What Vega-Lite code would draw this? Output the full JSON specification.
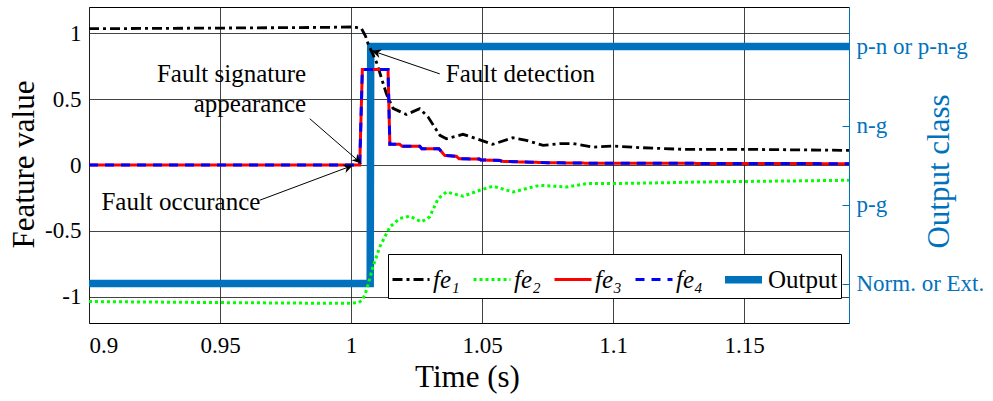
{
  "$schema": "https://vega.github.io/schema/vega-lite/v6.json",
  "width": 760,
  "height": 316,
  "autosize": "none",
  "padding": {"left": 89, "top": 7, "right": 144, "bottom": 78},
  "background": "white",
  "config": {
    "view": {"stroke": "black", "strokeWidth": 1},
    "font": "Liberation Serif",
    "axis": {
      "labelFont": "Liberation Serif",
      "titleFont": "Liberation Serif",
      "titleFontWeight": "normal",
      "labelColor": "black",
      "titleColor": "black",
      "gridColor": "#222222",
      "gridOpacity": 0.85,
      "gridWidth": 1,
      "domainColor": "black",
      "labelFontSize": 23,
      "titleFontSize": 31
    },
    "legend": {
      "orient": "none",
      "legendX": 299,
      "legendY": 247,
      "direction": "horizontal",
      "strokeColor": "black",
      "fillColor": "white",
      "padding": 3,
      "symbolType": "stroke",
      "symbolSize": 1369,
      "labelFont": "Liberation Serif",
      "labelFontSize": 25,
      "labelColor": "black",
      "labelFontStyle": {"expr": "datum.label == 'Output' ? 'normal' : 'italic'"},
      "columnPadding": 7,
      "labelOffset": 2,
      "labelLimit": 300
    }
  },
  "datasets": {
    "lines": [
      {"series": "Output", "t": 0.9, "v": -0.9},
      {"series": "Output", "t": 1.0073, "v": -0.9},
      {"series": "Output", "t": 1.0075, "v": 0.9},
      {"series": "Output", "t": 1.19, "v": 0.9},

      {"series": "fe₁", "t": 0.9, "v": 1.035},
      {"series": "fe₁", "t": 0.95, "v": 1.04},
      {"series": "fe₁", "t": 0.99, "v": 1.045},
      {"series": "fe₁", "t": 1.0, "v": 1.048},
      {"series": "fe₁", "t": 1.002, "v": 1.045},
      {"series": "fe₁", "t": 1.004, "v": 1.035},
      {"series": "fe₁", "t": 1.0055, "v": 0.98},
      {"series": "fe₁", "t": 1.0065, "v": 0.92},
      {"series": "fe₁", "t": 1.0097, "v": 0.78},
      {"series": "fe₁", "t": 1.0135, "v": 0.54},
      {"series": "fe₁", "t": 1.016, "v": 0.43},
      {"series": "fe₁", "t": 1.0211, "v": 0.384},
      {"series": "fe₁", "t": 1.0262, "v": 0.427},
      {"series": "fe₁", "t": 1.0294, "v": 0.364},
      {"series": "fe₁", "t": 1.0339, "v": 0.225},
      {"series": "fe₁", "t": 1.0364, "v": 0.2},
      {"series": "fe₁", "t": 1.0427, "v": 0.233},
      {"series": "fe₁", "t": 1.0478, "v": 0.2},
      {"series": "fe₁", "t": 1.054, "v": 0.157},
      {"series": "fe₁", "t": 1.0618, "v": 0.207},
      {"series": "fe₁", "t": 1.0669, "v": 0.187},
      {"series": "fe₁", "t": 1.0733, "v": 0.149},
      {"series": "fe₁", "t": 1.0796, "v": 0.162},
      {"series": "fe₁", "t": 1.0847, "v": 0.162},
      {"series": "fe₁", "t": 1.0924, "v": 0.136},
      {"series": "fe₁", "t": 1.1, "v": 0.144},
      {"series": "fe₁", "t": 1.1102, "v": 0.132},
      {"series": "fe₁", "t": 1.1266, "v": 0.119},
      {"series": "fe₁", "t": 1.15, "v": 0.119},
      {"series": "fe₁", "t": 1.19, "v": 0.111},

      {"series": "fe₂", "t": 0.9, "v": -1.037},
      {"series": "fe₂", "t": 0.95, "v": -1.045},
      {"series": "fe₂", "t": 0.99, "v": -1.05},
      {"series": "fe₂", "t": 1.0, "v": -1.05},
      {"series": "fe₂", "t": 1.003, "v": -1.045},
      {"series": "fe₂", "t": 1.0045, "v": -1.02},
      {"series": "fe₂", "t": 1.0059, "v": -0.95},
      {"series": "fe₂", "t": 1.0084, "v": -0.77},
      {"series": "fe₂", "t": 1.011, "v": -0.62},
      {"series": "fe₂", "t": 1.0148, "v": -0.47},
      {"series": "fe₂", "t": 1.0186, "v": -0.406},
      {"series": "fe₂", "t": 1.0224, "v": -0.389},
      {"series": "fe₂", "t": 1.0269, "v": -0.432},
      {"series": "fe₂", "t": 1.03, "v": -0.394},
      {"series": "fe₂", "t": 1.0332, "v": -0.255},
      {"series": "fe₂", "t": 1.0364, "v": -0.205},
      {"series": "fe₂", "t": 1.0427, "v": -0.237},
      {"series": "fe₂", "t": 1.0491, "v": -0.192},
      {"series": "fe₂", "t": 1.0542, "v": -0.161},
      {"series": "fe₂", "t": 1.0618, "v": -0.205},
      {"series": "fe₂", "t": 1.072, "v": -0.154},
      {"series": "fe₂", "t": 1.0822, "v": -0.167},
      {"series": "fe₂", "t": 1.0899, "v": -0.141},
      {"series": "fe₂", "t": 1.1, "v": -0.141},
      {"series": "fe₂", "t": 1.1216, "v": -0.134},
      {"series": "fe₂", "t": 1.133, "v": -0.129},
      {"series": "fe₂", "t": 1.19, "v": -0.116},

      {"series": "fe₃", "t": 0.9, "v": 0},
      {"series": "fe₃", "t": 1.0033, "v": 0},
      {"series": "fe₃", "t": 1.0043, "v": 0.725},
      {"series": "fe₃", "t": 1.0141, "v": 0.725},
      {"series": "fe₃", "t": 1.0148, "v": 0.157},
      {"series": "fe₃", "t": 1.0186, "v": 0.157},
      {"series": "fe₃", "t": 1.0195, "v": 0.142},
      {"series": "fe₃", "t": 1.0262, "v": 0.142},
      {"series": "fe₃", "t": 1.027, "v": 0.124},
      {"series": "fe₃", "t": 1.0335, "v": 0.124},
      {"series": "fe₃", "t": 1.0357, "v": 0.073},
      {"series": "fe₃", "t": 1.0402, "v": 0.066},
      {"series": "fe₃", "t": 1.0412, "v": 0.048},
      {"series": "fe₃", "t": 1.049, "v": 0.045},
      {"series": "fe₃", "t": 1.0495, "v": 0.038},
      {"series": "fe₃", "t": 1.0568, "v": 0.035},
      {"series": "fe₃", "t": 1.0575, "v": 0.028},
      {"series": "fe₃", "t": 1.065, "v": 0.023},
      {"series": "fe₃", "t": 1.0746, "v": 0.018},
      {"series": "fe₃", "t": 1.09, "v": 0.014},
      {"series": "fe₃", "t": 1.19, "v": 0.01},

      {"series": "fe₄", "t": 0.9, "v": 0},
      {"series": "fe₄", "t": 1.0033, "v": 0},
      {"series": "fe₄", "t": 1.0043, "v": 0.725},
      {"series": "fe₄", "t": 1.0141, "v": 0.725},
      {"series": "fe₄", "t": 1.0148, "v": 0.157},
      {"series": "fe₄", "t": 1.0186, "v": 0.157},
      {"series": "fe₄", "t": 1.0195, "v": 0.142},
      {"series": "fe₄", "t": 1.0262, "v": 0.142},
      {"series": "fe₄", "t": 1.027, "v": 0.124},
      {"series": "fe₄", "t": 1.0335, "v": 0.124},
      {"series": "fe₄", "t": 1.0357, "v": 0.073},
      {"series": "fe₄", "t": 1.0402, "v": 0.066},
      {"series": "fe₄", "t": 1.0412, "v": 0.048},
      {"series": "fe₄", "t": 1.049, "v": 0.045},
      {"series": "fe₄", "t": 1.0495, "v": 0.038},
      {"series": "fe₄", "t": 1.0568, "v": 0.035},
      {"series": "fe₄", "t": 1.0575, "v": 0.028},
      {"series": "fe₄", "t": 1.065, "v": 0.023},
      {"series": "fe₄", "t": 1.0746, "v": 0.018},
      {"series": "fe₄", "t": 1.09, "v": 0.014},
      {"series": "fe₄", "t": 1.19, "v": 0.01}
    ],
    "notes": [
      {"text": "Fault signature", "t": 0.92592, "v": 0.629},
      {"text": "appearance", "t": 0.93996, "v": 0.4015},
      {"text": "Fault occurance", "t": 0.90473, "v": -0.343},
      {"text": "Fault detection", "t": 1.03615, "v": 0.634}
    ],
    "arrows": [
      {"id": "sig", "t": 0.98424, "v": 0.3515, "t2": 1.00397, "v2": 0.0106},
      {"id": "occ", "t": 0.96515, "v": -0.2674, "t2": 1.00076, "v2": -0.0023},
      {"id": "det", "t": 1.03385, "v": 0.692, "t2": 1.00779, "v2": 0.869}
    ]
  },
  "layer": [
    {
      "data": {"name": "lines"},
      "transform": [{"filter": "datum.series == 'Output'"}],
      "mark": {"type": "line", "clip": true, "strokeJoin": "miter"},
      "encoding": {
        "x": {
          "field": "t", "type": "quantitative",
          "scale": {"domain": [0.9, 1.19], "nice": false, "zero": false},
          "axis": {
            "title": "Time (s)", "values": [0.9, 0.95, 1, 1.05, 1.1, 1.15],
            "format": "~g", "grid": true, "ticks": false, "domain": false,
            "labelPadding": 11, "titleX": 378, "titleY": 63, "titleBaseline": "alphabetic"
          }
        },
        "y": {
          "field": "v", "type": "quantitative",
          "scale": {"domain": [-1.2, 1.2], "nice": false, "zero": false},
          "axis": {
            "orient": "right", "title": "Output class", "values": [-0.9, -0.3, 0.3, 0.9],
            "labelExpr": "datum.value < -0.5 ? 'Norm. or Ext.' : datum.value < 0 ? 'p-g' : datum.value < 0.5 ? 'n-g' : 'p-n or p-n-g'",
            "grid": false, "ticks": true, "tickSize": -7, "labelPadding": 14,
            "tickColor": "#0072BD", "domainColor": "#0072BD", "labelColor": "#0072BD", "titleColor": "#0072BD",
            "labelFontSize": 23, "titleAngle": -90, "titleX": 99, "titleY": 164, "titleBaseline": "alphabetic", "titleAlign": "center"
          }
        },
        "color": {
          "field": "series", "type": "nominal",
          "scale": {"domain": ["fe₁", "fe₂", "fe₃", "fe₄", "Output"], "range": ["#000000", "#00FF00", "#FF0000", "#0000FF", "#0072BD"]},
          "legend": {"title": null}
        },
        "strokeDash": {
          "field": "series", "type": "nominal",
          "scale": {"domain": ["fe₁", "fe₂", "fe₃", "fe₄", "Output"], "range": [[10, 4, 3, 4], [3, 3], [1, 0], [9, 7], [1, 0]]},
          "legend": {"title": null}
        },
        "strokeWidth": {
          "field": "series", "type": "ordinal",
          "scale": {"type": "ordinal", "domain": ["fe₁", "fe₂", "fe₃", "fe₄", "Output"], "range": [2.8, 3, 3, 3, 7.5]},
          "legend": {"title": null}
        }
      }
    },
    {
      "layer": [
        {
          "data": {"name": "lines"},
          "transform": [{"filter": "datum.series != 'Output'"}],
          "mark": {"type": "line", "clip": true},
          "encoding": {
            "x": {
              "field": "t", "type": "quantitative",
              "scale": {"domain": [0.9, 1.19], "nice": false, "zero": false},
              "axis": {
                "title": "Time (s)", "values": [0.9, 0.95, 1, 1.05, 1.1, 1.15],
                "format": "~g", "grid": true, "ticks": false, "domain": false,
                "labelPadding": 11, "titleX": 378, "titleY": 63, "titleBaseline": "alphabetic"
              }
            },
            "y": {
              "field": "v", "type": "quantitative",
              "scale": {"domain": [-1.2, 1.2], "nice": false, "zero": false},
              "axis": {
                "title": "Feature value", "values": [-1, -0.5, 0, 0.5, 1],
                "labelExpr": "'' + datum.value", "grid": true, "ticks": false, "domain": false,
                "labelPadding": 8, "titleAngle": -90, "titleX": -56, "titleY": 157, "titleBaseline": "alphabetic", "titleAlign": "center"
              }
            },
            "color": {"field": "series", "type": "nominal", "scale": {"domain": ["fe₁", "fe₂", "fe₃", "fe₄", "Output"], "range": ["#000000", "#00FF00", "#FF0000", "#0000FF", "#0072BD"]}, "legend": {"title": null}},
            "strokeDash": {"field": "series", "type": "nominal", "scale": {"domain": ["fe₁", "fe₂", "fe₃", "fe₄", "Output"], "range": [[10, 4, 3, 4], [3, 3], [1, 0], [9, 7], [1, 0]]}, "legend": {"title": null}},
            "strokeWidth": {"field": "series", "type": "ordinal", "scale": {"type": "ordinal", "domain": ["fe₁", "fe₂", "fe₃", "fe₄", "Output"], "range": [2.8, 3, 3, 3, 7.5]}, "legend": {"title": null}}
          }
        },
        {
          "data": {"name": "arrows"},
          "mark": {"type": "rule", "color": "black", "strokeWidth": 1},
          "encoding": {
            "x": {"field": "t", "type": "quantitative"},
            "y": {"field": "v", "type": "quantitative"},
            "x2": {"field": "t2"},
            "y2": {"field": "v2"}
          }
        },
        {
          "data": {"name": "arrows"},
          "mark": {"type": "point", "shape": "M0,0L-1,-0.45L-0.7,0L-1,0.45Z", "filled": true, "color": "black", "opacity": 1, "size": 380},
          "encoding": {
            "x": {"field": "t2", "type": "quantitative"},
            "y": {"field": "v2", "type": "quantitative"},
            "angle": {"condition": [{"test": "datum.id == 'sig'", "value": 42}, {"test": "datum.id == 'occ'", "value": 339}], "value": 199}
          }
        },
        {
          "data": {"name": "notes"},
          "mark": {"type": "text", "align": "left", "baseline": "alphabetic", "font": "Liberation Serif", "fontSize": 25, "color": "black"},
          "encoding": {
            "x": {"field": "t", "type": "quantitative"},
            "y": {"field": "v", "type": "quantitative"},
            "text": {"field": "text"}
          }
        }
      ]
    }
  ],
  "resolve": {"scale": {"y": "independent"}}
}
